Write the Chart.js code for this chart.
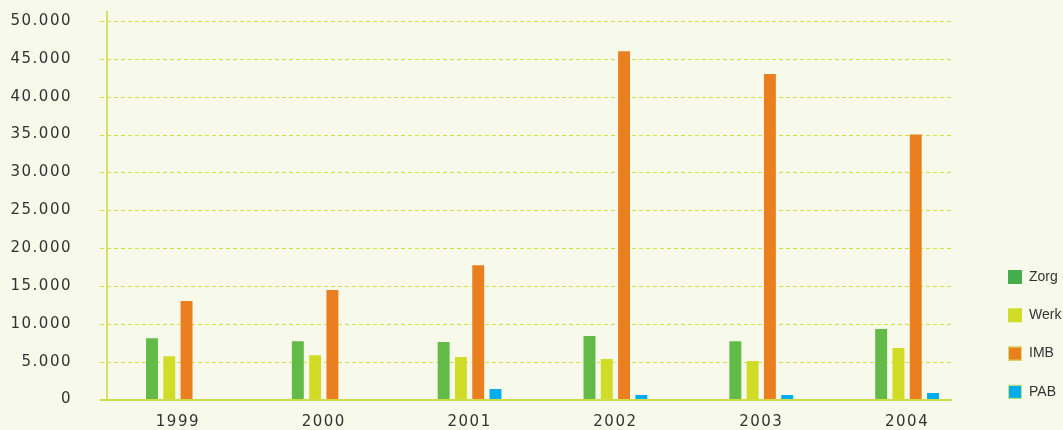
<!DOCTYPE html>
<html>
<head>
<meta charset="utf-8">
<script src="https://cdn.jsdelivr.net/npm/chart.js@4/dist/chart.umd.min.js"></script>
<style>
  html, body { margin: 0; padding: 0; background: #f7f9ea; }
  #wrap { width: 1063px; height: 430px; position: relative; }
</style>
</head>
<body>
<div id="wrap"><canvas id="chart"></canvas></div>
<script>
// data
const years = ["1999", "2000", "2001", "2002", "2003", "2004"];
const zorg = [8100, 7700, 7600, 8400, 7700, 9300];
const werk = [5700, 5850, 5600, 5350, 5100, 6800];
const imb = [13000, 14450, 17750, 46000, 43000, 35000];
const pab = [0, 0, 1400, 600, 600, 850];

const seriesNames = ["Zorg", "Werk", "IMB", "PAB"];
const seriesColors = ["#62bb46", "#d0dc26", "#ea7f20", "#00aeef"];
const legendColors = ["#45ad4c", "#d0dc26", "#ea7f20", "#00aeef"];

const fmt = (v) => String(v).replace(/\B(?=(\d{3})+(?!\d))/g, ".");

// grid, axis lines and legend drawn by hand so they stop where the original does
const framePlugin = {
  id: "frame",
  beforeDraw(chart) {
    chart.ctx.letterSpacing = "1.5px";
  },
  beforeDatasetsDraw(chart) {
    const ctx = chart.ctx;
    const y = chart.scales.y;
    ctx.save();
    ctx.letterSpacing = "0px";
    ctx.strokeStyle = "#d6e03c";
    ctx.lineWidth = 1;
    ctx.setLineDash([4, 3]);
    y.ticks.forEach((t) => {
      const py = Math.round(y.getPixelForValue(t.value)) + 0.5;
      ctx.beginPath();
      ctx.moveTo(100, py);
      ctx.lineTo(952, py);
      ctx.stroke();
    });
    ctx.setLineDash([]);
    ctx.strokeStyle = "#d8e06a";
    ctx.lineWidth = 2;
    const bottom = y.getPixelForValue(0);
    ctx.beginPath();
    ctx.moveTo(107, 11);
    ctx.lineTo(107, bottom);
    ctx.stroke();
    ctx.restore();
  },
  afterDatasetsDraw(chart) {
    const ctx = chart.ctx;
    const y = chart.scales.y;
    const bottom = Math.round(y.getPixelForValue(0));
    ctx.save();
    ctx.strokeStyle = "#d0dc45";
    ctx.lineWidth = 2;
    ctx.beginPath();
    ctx.moveTo(100, bottom);
    ctx.lineTo(952, bottom);
    ctx.stroke();
    ctx.restore();
  },
  afterDraw(chart) {
    const ctx = chart.ctx;
    ctx.save();
    ctx.letterSpacing = "0px";
    ctx.font = "14px 'Liberation Sans', Arial, sans-serif";
    ctx.textBaseline = "middle";
    ctx.textAlign = "left";
    seriesNames.forEach((name, i) => {
      const cy = 277 + i * 38.3;
      ctx.fillStyle = legendColors[i];
      ctx.fillRect(1008, cy - 7, 14, 14);
      if (i >= 2) {
        ctx.strokeStyle = "#d8e06a";
        ctx.lineWidth = 1;
        ctx.strokeRect(1008.5, cy - 6.5, 13, 13);
      }
      ctx.fillStyle = "#333333";
      ctx.fillText(name, 1029, cy);
    });
    ctx.restore();
  },
};

const datasets = [zorg, werk, imb, pab].map((vals, i) => ({
  label: seriesNames[i],
  data: vals,
  backgroundColor: seriesColors[i],
  borderWidth: 0,
  categoryPercentage: 0.474,
  barPercentage: 0.69,
}));

new Chart(document.getElementById("chart"), {
  type: "bar",
  data: { labels: years, datasets },
  plugins: [framePlugin],
  options: {
    responsive: true,
    maintainAspectRatio: false,
    animation: false,
    layout: { padding: { top: 21, right: 83, left: 0, bottom: 0 } },
    plugins: {
      legend: { display: false },
      tooltip: { enabled: false },
    },
    scales: {
      x: {
        afterFit(scale) {
          scale.height = 30.5;
        },
        grid: { display: false, drawTicks: false },
        border: { display: false },
        ticks: {
          padding: 14,
          color: "#333333",
          font: { family: "'DejaVu Sans', sans-serif", size: 15 },
        },
      },
      y: {
        min: 0,
        max: 50000,
        afterFit(scale) {
          scale.width = 105;
          scale.paddingTop = 0;
          scale.paddingBottom = 0;
        },
        grid: { display: false, drawTicks: false },
        border: { display: false },
        ticks: {
          stepSize: 5000,
          padding: 33,
          color: "#333333",
          font: { family: "'DejaVu Sans', sans-serif", size: 15 },
          callback: (v) => fmt(v),
        },
      },
    },
  },
});
</script>
</body>
</html>
